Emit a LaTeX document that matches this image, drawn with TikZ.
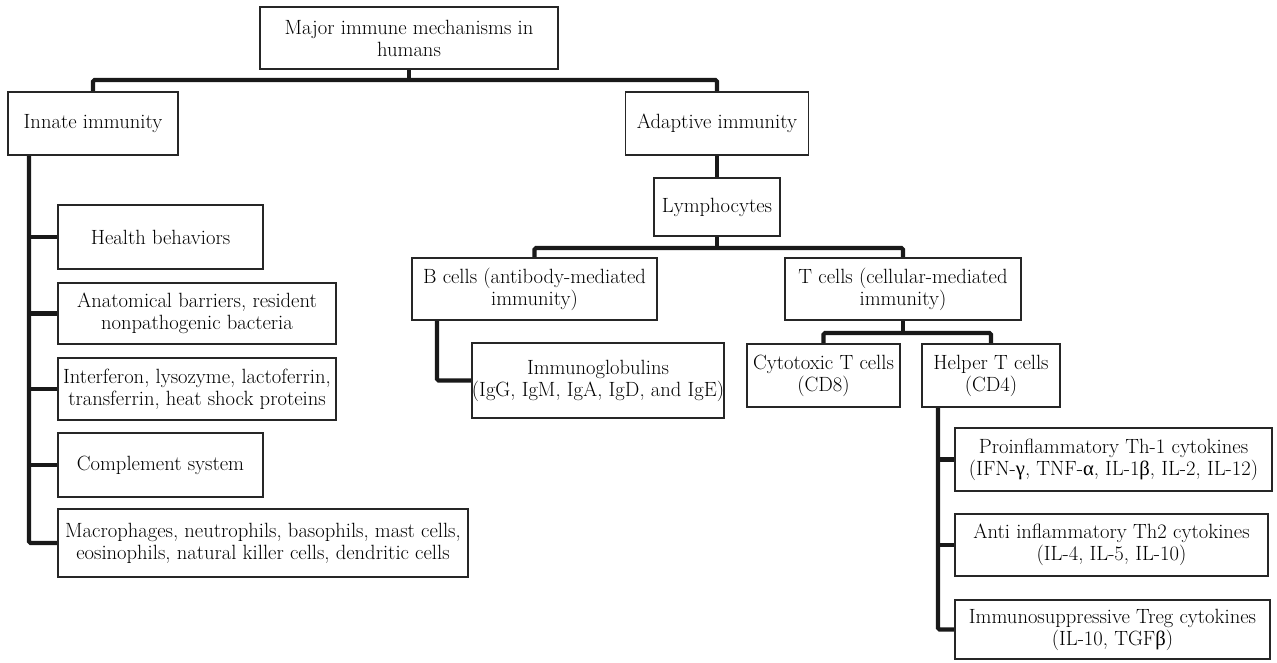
\documentclass[tikz,border=0pt]{standalone}
\usepackage{fontspec}
\usetikzlibrary{backgrounds}
\newfontfamily\gk{Liberation Serif}
\begin{document}
\begin{tikzpicture}[x=1pt,y=-1pt,
  box/.style={draw=black!85, line width=1.3pt, fill=white, inner sep=0pt, align=center,
    font=\fontsize{20.6}{22}\selectfont},
  conn/.style={draw=black!90, line width=4.2pt, rounded corners=1.5pt, line cap=butt}]
\useasboundingbox (0,0) rectangle (1277,662);
% coordinates
\coordinate (b1) at (409,80);
\coordinate (iv) at (29,0);
\coordinate (b2) at (717,248);
\coordinate (bv) at (437,0);
\coordinate (b3) at (903,333);
\coordinate (hv) at (938,0);
% nodes (positions: centres, sizes)
\node[box, minimum width=298pt, minimum height=62pt] (root) at (409,38) {Major immune mechanisms in\\humans};
\node[box, minimum width=170pt, minimum height=63pt] (innate) at (93,123.5) {Innate immunity};
\node[box, minimum width=183pt, minimum height=63pt] (adaptive) at (717,123.5) {Adaptive immunity};
\node[box, minimum width=126pt, minimum height=58pt] (lymph) at (717,207) {Lymphocytes};
\node[box, minimum width=245pt, minimum height=62pt] (bcell) at (534.5,289) {B cells (antibody-mediated\\immunity)};
\node[box, minimum width=236pt, minimum height=62pt] (tcell) at (903,289) {T cells (cellular-mediated\\immunity)};
\node[box, minimum width=252pt, minimum height=75pt] (igs) at (598,380.5) {Immunoglobulins\\(IgG, IgM, IgA, IgD, and IgE)};
\node[box, minimum width=153pt, minimum height=63pt] (cyto) at (823.5,375.5) {Cytotoxic T cells\\(CD8)};
\node[box, minimum width=138pt, minimum height=63pt] (helper) at (991,375.5) {Helper T cells\\(CD4)};
\node[box, minimum width=317pt, minimum height=63pt] (pro) at (1113.5,459.5) {Proinflammatory Th-1 cytokines\\(IFN-{\gk γ}, TNF-{\gk α}, IL-1{\gk β}, IL-2, IL-12)};
\node[box, minimum width=313pt, minimum height=62pt] (anti) at (1111.5,545) {Anti inflammatory Th2 cytokines\\(IL-4, IL-5, IL-10)};
\node[box, minimum width=315pt, minimum height=59pt] (treg) at (1112.5,629.5) {Immunosuppressive Treg cytokines\\(IL-10, TGF{\gk β})};
\node[box, minimum width=205pt, minimum height=64pt] (health) at (160.5,237) {Health behaviors};
\node[box, minimum width=278pt, minimum height=61pt] (anat) at (197,313.5) {Anatomical barriers, resident\\nonpathogenic bacteria};
\node[box, minimum width=278pt, minimum height=62pt] (interf) at (197,389) {Interferon, lysozyme, lactoferrin,\\transferrin, heat shock proteins};
\node[box, minimum width=205pt, minimum height=64pt] (compl) at (160.5,465) {Complement system};
\node[box, minimum width=410pt, minimum height=68pt] (macro) at (263,543) {Macrophages, neutrophils, basophils, mast cells,\\eosinophils, natural killer cells, dendritic cells};
% connectors
\begin{scope}[on background layer]
\draw[conn] (root.south) -- (b1);
\draw[conn] (innate.north) |- (b1) -| (adaptive.north);
\draw[conn] (innate.south -| iv) -- (iv |- macro.west) -- (macro.west);
\draw[conn] (iv |- health.west) -- (health.west);
\draw[conn] (iv |- anat.west) -- (anat.west);
\draw[conn] (iv |- interf.west) -- (interf.west);
\draw[conn] (iv |- compl.west) -- (compl.west);
\draw[conn] (adaptive.south) -- (lymph.north);
\draw[conn] (lymph.south) -- (b2);
\draw[conn] (bcell.north) |- (b2) -| (tcell.north);
\draw[conn] (bcell.south -| bv) |- (igs.west);
\draw[conn] (tcell.south) -- (b3);
\draw[conn] (cyto.north) |- (b3) -| (helper.north);
\draw[conn] (helper.south -| hv) -- (hv |- treg.west) -- (treg.west);
\draw[conn] (hv |- pro.west) -- (pro.west);
\draw[conn] (hv |- anti.west) -- (anti.west);
\end{scope}
\end{tikzpicture}
\end{document}
